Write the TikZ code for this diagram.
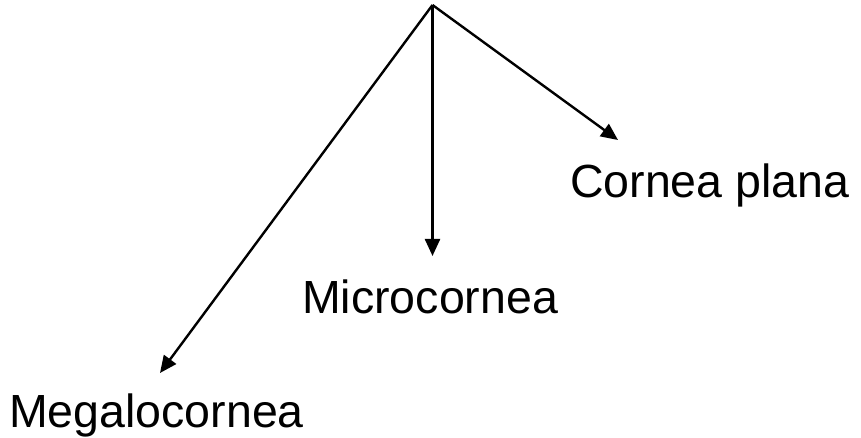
\documentclass[tikz,border=0pt]{standalone}
\usepackage{fontspec}
\setmainfont{Liberation Sans}
\usetikzlibrary{arrows.meta}
\tikzset{
  kind/.style={anchor=base west, inner sep=0pt, font=\fontsize{46.5}{56}\selectfont},
  branch/.style={-{Triangle[length=17pt,width=15pt]}, line width=2.4pt}
}
\begin{document}
\begin{tikzpicture}[x=1pt, y=-1pt]
  \useasboundingbox (0,0) rectangle (861,438);
  \coordinate (root) at (432.5,5);
  \coordinate (megatip) at (160,373);
  \coordinate (microtip) at (432.5,256);
  \coordinate (planatip) at (618,140);
  \node[kind] (mega) at (9,427) {Megalocornea};
  \node[kind] (micro) at (302,313) {Microcornea};
  \node[kind] (plana) at (570,198) {Cornea plana};
  \draw[branch] (root) -- (megatip);
  \draw[branch] (root) -- (microtip);
  \draw[branch] (root) -- (planatip);
\end{tikzpicture}
\end{document}
